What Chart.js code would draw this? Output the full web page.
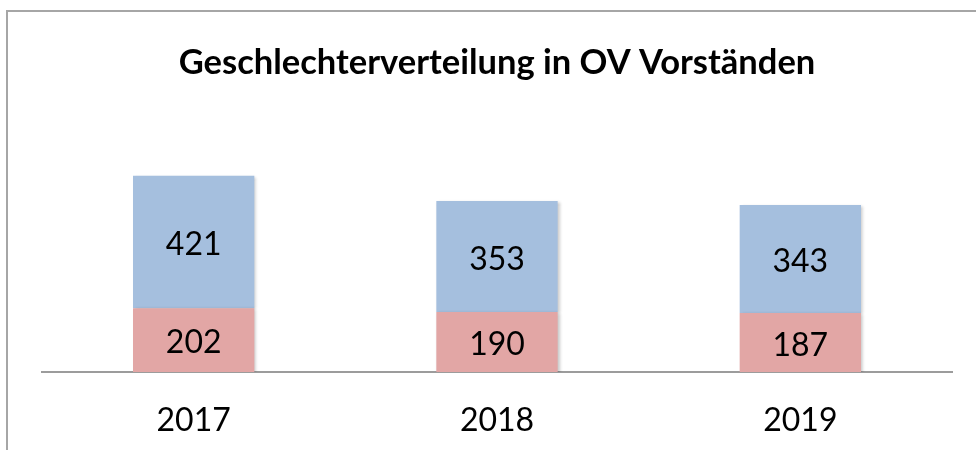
<!DOCTYPE html>
<html>
<head>
<meta charset="utf-8">
<script src="https://cdn.jsdelivr.net/npm/chart.js@4/dist/chart.umd.min.js"></script>
<style>
  body { margin: 0; background: #fff; overflow: hidden; }
  #frame { position: absolute; left: 6px; top: 10px; width: 2000px; height: 2000px;
           border-left: 2px solid #a6a6a6; border-top: 2px solid #a6a6a6; }
  #wrap { position: absolute; left: 0; top: 0; width: 976px; height: 450px; }
</style>
</head>
<body>
<div id="frame"></div>
<div id="wrap"><canvas id="myChart"></canvas></div>
<script>
    const years = ['2017', '2018', '2019'];
    const frauen = [202, 190, 187];   // unten, rosa
    const maenner = [421, 353, 343];  // oben, blau

    const FONT = 'Lato, "Open Sans", sans-serif';

    // Werte mittig in die Balken schreiben
    const barLabels = {
        id: 'barLabels',
        afterDatasetsDraw(chart) {
            const ctx = chart.ctx;
            ctx.save();
            ctx.font = '32px ' + FONT;
            ctx.fillStyle = '#000';
            ctx.textAlign = 'center';
            ctx.textBaseline = 'middle';
            chart.data.datasets.forEach((ds, i) => {
                chart.getDatasetMeta(i).data.forEach((bar, j) => {
                    ctx.fillText(ds.data[j], bar.x, (bar.y + bar.base) / 2 + 3);
                });
            });
            ctx.restore();
        }
    };

    // leichter Schatten wie im Office-Diagramm
    const barShadow = {
        id: 'barShadow',
        beforeDatasetsDraw(chart) {
            const ctx = chart.ctx;
            ctx.save();
            ctx.shadowColor = 'rgba(0,0,0,0.22)';
            ctx.shadowBlur = 3;
            ctx.shadowOffsetX = 2;
            ctx.shadowOffsetY = 1;
        },
        afterDatasetsDraw(chart) {
            chart.ctx.restore();
        }
    };

    const data = {
        labels: years,
        datasets: [{
            label: 'Frauen',
            backgroundColor: 'rgb(226,166,165)',
            data: frauen,
        },
        {
            label: 'Männer',
            backgroundColor: 'rgb(165,191,222)',
            data: maenner,
        }]
    };

    const config = {
        type: 'bar',
        data: data,
        plugins: [barShadow, barLabels],
        options: {
            responsive: true,
            maintainAspectRatio: false,
            animation: false,
            layout: { padding: { left: 42, right: 24, top: 0, bottom: 0 } },
            datasets: { bar: { barPercentage: 0.4, categoryPercentage: 1.0 } },
            plugins: {
                legend: { display: false },
                tooltip: { enabled: false },
                title: {
                    display: true,
                    text: 'Geschlechterverteilung in OV Vorständen',
                    color: '#000',
                    font: { family: FONT, size: 34.5, weight: 'bold' },
                    padding: { top: 42, bottom: 68 }
                }
            },
            scales: {
                x: {
                    stacked: true,
                    grid: { display: false, drawTicks: false },
                    border: { display: true, color: '#9c9c9c', width: 2 },
                    ticks: { color: '#000', font: { family: FONT, size: 32 }, padding: 29 },
                    afterFit: (scale) => { scale.height = 78; }
                },
                y: {
                    stacked: true,
                    display: false,
                    min: 0,
                    max: 700
                }
            }
        }
    };

    const myChart = new Chart(
        document.getElementById('myChart'),
        config
    );
</script>
</body>
</html>
